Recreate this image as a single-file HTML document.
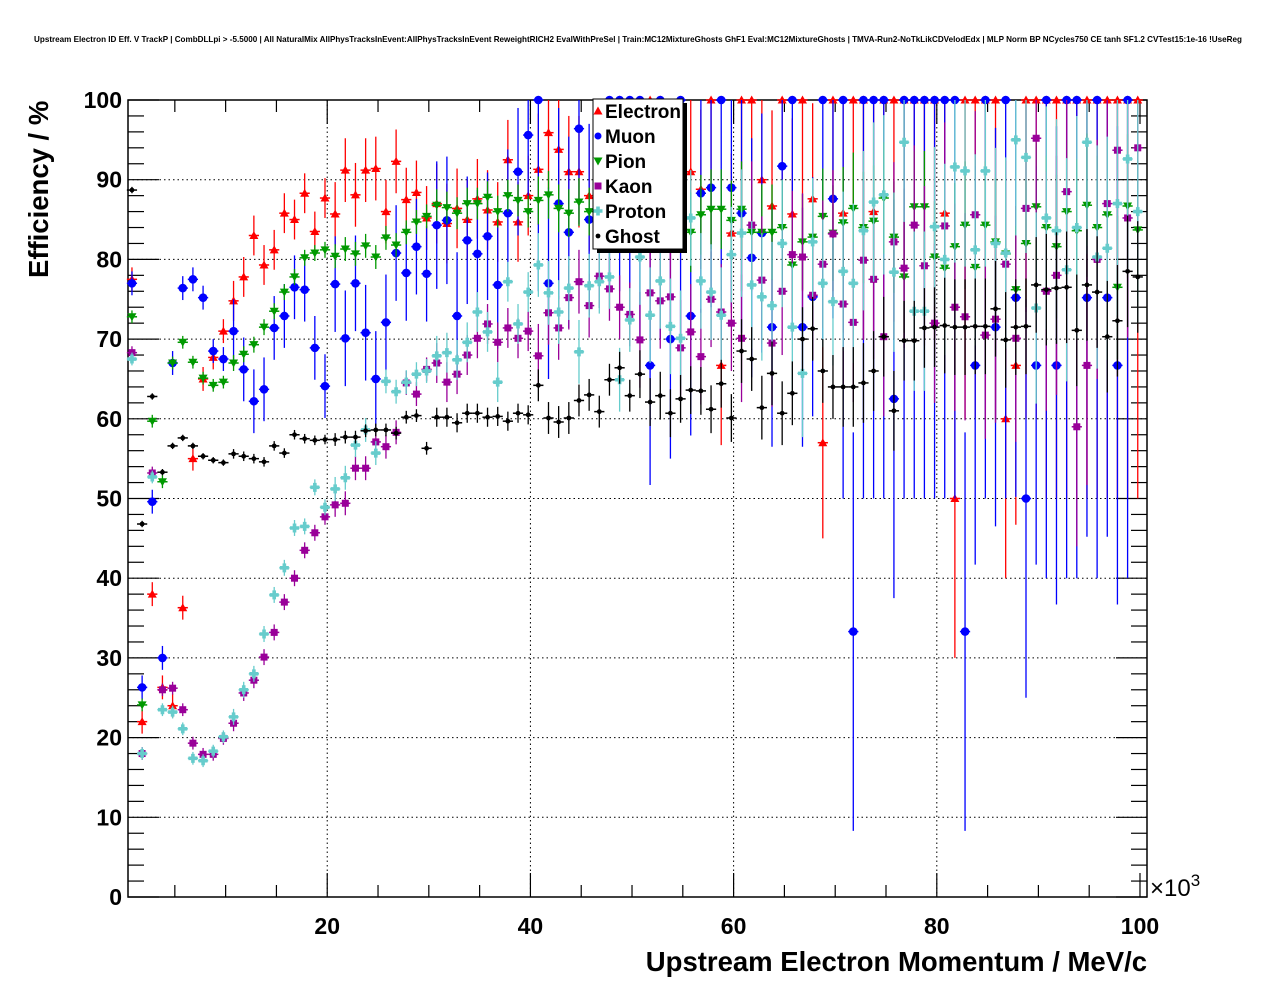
<!DOCTYPE html>
<html><head><meta charset="utf-8"><style>
html,body{margin:0;padding:0;background:#fff;}
svg{display:block;font-family:"Liberation Sans",Arial,sans-serif;}
</style></head><body>
<svg id="chart" width="1276" height="996" viewBox="0 0 1276 996" xmlns="http://www.w3.org/2000/svg">
<rect x="0" y="0" width="1276" height="996" fill="#fff"/>
<text x="638" y="42" text-anchor="middle" font-size="8.1" font-weight="bold">Upstream Electron ID Eff. V TrackP | CombDLLpi &gt; -5.5000 | All NaturalMix AllPhysTracksInEvent:AllPhysTracksInEvent ReweightRICH2 EvalWithPreSel | Train:MC12MixtureGhosts GhF1 Eval:MC12MixtureGhosts | TMVA-Run2-NoTkLikCDVelodEdx | MLP Norm BP NCycles750 CE tanh SF1.2 CVTest15:1e-16 !UseReg</text>
<g id="grid"></g>
<g id="axes"></g>
<g id="series"></g>
<text transform="translate(48,278) rotate(-90)" text-anchor="start" font-size="27.5" font-weight="bold">Efficiency / %</text>
<text x="1147" y="971" text-anchor="end" font-size="27.5" font-weight="bold">Upstream Electron Momentum / MeV/c</text>
<text x="1150" y="896" font-size="24">×10<tspan font-size="17" dy="-10">3</tspan></text>
<g id="legend"></g>
</svg>
<script>
const categoriesStart = 0.78;
const electron = [77.5,22,38,26.3,24,36.3,55,65,67.7,71,74.8,77.8,83,79.3,81.2,85.8,85,88.3,83.5,87.7,85.7,91.2,88.1,91.2,91.4,86,92.3,87.5,88.4,85.2,87,84.5,86.4,85,87.6,86.2,84.7,92.5,84.7,88,91.3,95.9,93.8,91,91,88,92,90,100,93,95,100,100,90,92,91,88.8,100,66.7,83.3,100,100,90,86.7,100,85.7,100,87.6,57,100,85.8,100,100,86,100,100,100,100,100,100,85.8,50,100,100,100,100,60,66.7,100,100,100,100,100,100,100,100,100,100,100,100];
const muon = [77,26.3,49.6,30,67,76.4,77.5,75.2,68.5,67.5,71,66.2,62.2,63.7,71.4,72.9,76.5,76.2,68.9,64.1,76.9,70.1,77,70.8,65,72.1,80.8,78.3,81.6,78.2,84.3,84.9,72.9,82.4,80.7,82.9,76.8,85.8,91,95.6,100,77,87,83.4,96.4,85,92,100,100,100,100,66.7,100,70,100,72.9,88.3,89,100,89,85.8,80.2,83.3,71.5,91.7,100,71.5,75.3,100,87.6,100,33.3,100,100,100,62.5,100,100,100,100,100,100,33.3,66.7,100,71.5,100,75.2,50,66.7,100,66.7,100,100,75.2,100,75.2,66.7,100,null];
const pion = [72.8,24.1,59.7,52.1,67,69.6,67.1,65.1,64.2,64.6,67,68.1,69.3,71.5,73.5,75.9,77.8,80.2,80.8,81.2,80.4,81.3,80.7,81.7,80.3,82.7,81.8,83.4,84.7,85.4,86.8,86.5,85.8,87,87,87.8,86,88,87.4,86,87.4,88.1,86.4,85.8,87.2,86,86,86,86,86,86,86,86,86,86,83.4,85.6,86.3,86.3,84.9,86.3,83.4,83.4,83.4,84,79.3,82.2,82.8,85.4,83.3,84.6,86.4,84,84.8,87.7,82.8,77.8,86.6,86.6,80.3,78.9,81.6,84.3,79,84.3,82.2,80.7,76.2,82,86.6,84,81.6,86,83.6,86.8,84,85.6,76.5,86.7,83.7];
const kaon = [68.3,18,53.2,26,26.2,23.5,19.3,17.9,17.9,19.9,21.8,25.6,27.2,30.1,33.2,37,40,43.5,45.7,47.7,49.2,49.4,53.8,53.8,57.1,56.5,58.3,64.5,63.1,66.2,67,64.6,65.6,68,70.1,71.9,69.6,71.4,70.1,71,67.9,73.3,71.4,75.2,77.2,74.2,77.9,76.3,74,73.1,69.9,75.8,74.8,75.3,68.9,70.9,67.8,75,73.4,72,70.1,84.3,77.4,69.5,76,80.6,80.3,75.5,79.4,83.2,74.4,72.1,79.9,77.5,70.3,82.2,78.9,84.3,79.2,72,84.2,74,72.8,85.6,70.5,72.5,79.4,70.1,86.4,95.2,76,78,88.5,59,66.7,80,87,93.7,85.2,94];
const proton = [67.5,18,52.7,23.5,23.2,21.1,17.4,17.1,18.3,20.1,22.6,26,28,33,37.9,41.3,46.3,46.5,51.4,48.9,51.2,52.6,56.7,58.6,55.7,64.7,63.4,64.6,65.6,66,67.9,68.3,67.4,69.6,73.4,70.9,64.6,77.2,71.9,75.9,79.3,75.8,73.4,76.4,68.4,76.7,77.2,77.8,64.9,72.4,80.3,73,77.3,71.6,70.1,85.2,77.3,75.9,73,80.6,83.3,76.8,75.3,74.2,82,71.5,65.7,82.2,77,74.7,78.5,77,83.6,87.2,88.1,78.4,94.7,73.5,73.5,84.1,80,91.6,91.1,81.2,91.1,82,80.8,95,92.8,73.9,85.2,83.6,78.7,84,94.7,80.3,81.4,87,92.6,86];
const ghost = [88.7,46.8,62.8,53.3,56.6,57.6,56.6,55.3,54.8,54.5,55.6,55.3,55,54.6,56.6,55.7,58,57.5,57.3,57.4,57.4,57.7,57.7,58.5,58.6,58.6,58.2,60.2,60.4,56.3,60.2,60.2,59.5,60.7,60.7,60.2,60.3,59.7,60.7,60.5,64.2,60.1,59.6,60.1,62.3,63,60.9,64.9,66.4,62.9,65.6,62.1,62.9,60.7,62.5,63.6,63.5,61.2,64.4,60.1,68.5,67.5,61.4,65.7,60.7,63.2,70,71.3,66,64,64,64,64.5,66,70.3,61,69.8,69.8,71.4,71.5,71.7,71.5,71.5,71.6,71.6,73.8,69.9,71.5,71.6,76.8,76.2,76.4,76.5,71.1,76.8,75.9,70.3,72.3,78.5,77.8];
// error half-size per 10-bin decade
const electronErr = [1.5,2.5,4,5,7,10,12,15,20,25];
const muonErr = [1.5,4,6,8,12,15,15,25,25,30];
const pionErr = [0.8,1,1.5,2,3,5,6,7,8,9];
const kaonErr = [0.8,1,1.5,2.5,4,6,8,10,13,15];
const protonErr = [0.8,1,1.5,2.5,4,6,8,10,12,14];
const ghostErr = [0.4,0.6,0.8,1.2,2,3,4,5,6,7];
const seriesNames = ["Electron","Muon","Pion","Kaon","Proton","Ghost"];
const xTickLabels = ["20","40","60","80","100"];
const yTickLabels = ["0","10","20","30","40","50","60","70","80","90","100"];

const NS="http://www.w3.org/2000/svg";
const X0=128,X1=1147,Y0=897,Y1=100,VMIN=0.39,VMAX=100.69;
function xs(v){return X0+(v-VMIN)/(VMAX-VMIN)*(X1-X0);}
function ys(v){return Y0-(v/100)*(Y0-Y1);}
function mk(tag,attrs,parent){const e=document.createElementNS(NS,tag);for(const k in attrs)e.setAttribute(k,attrs[k]);parent.appendChild(e);return e;}
const grid=document.getElementById('grid'),axes=document.getElementById('axes'),ser=document.getElementById('series'),leg=document.getElementById('legend');

xTickLabels.forEach(t=>{const v=+t;if(v<100){const g=mk('line',{x1:xs(v),x2:xs(v),y1:Y1,y2:Y0,stroke:'#000','stroke-width':1,'stroke-dasharray':'1.5,3'},grid);

}});
yTickLabels.forEach(t=>{const v=+t;if(v>0&&v<100){const g=mk('line',{x1:X0,x2:X1,y1:ys(v),y2:ys(v),stroke:'#000','stroke-width':1,'stroke-dasharray':'1.5,3'},grid);

}});

const fr=mk('rect',{x:X0,y:Y1,width:X1-X0,height:Y0-Y1,fill:'none',stroke:'#000','stroke-width':1.5},axes);


for(let v=0;v<=100;v+=2){const major=v%10===0;const L=major?31:16;
mk('line',{x1:X0,x2:X0+L,y1:ys(v),y2:ys(v),stroke:'#000','stroke-width':1.2},axes);
mk('line',{x1:X1,x2:X1-L,y1:ys(v),y2:ys(v),stroke:'#000','stroke-width':1.2},axes);}
yTickLabels.forEach(t=>{const tx=mk('text',{x:122,y:ys(+t)+8,'text-anchor':'end','font-size':23,'font-weight':'bold'},axes);tx.textContent=t;

});
for(let v=5;v<=100;v+=5){const major=v%20===0;const L=major?24:12;
mk('line',{x1:xs(v),x2:xs(v),y1:Y0,y2:Y0-L,stroke:'#000','stroke-width':1.2},axes);
mk('line',{x1:xs(v),x2:xs(v),y1:Y1,y2:Y1+L,stroke:'#000','stroke-width':1.2},axes);}
xTickLabels.forEach(t=>{const tx=mk('text',{x:xs(+t),y:934,'text-anchor':'middle','font-size':23,'font-weight':'bold'},axes);tx.textContent=t;

});

const styles=[
 {c:'#ff0000',m:'tri'},{c:'#0000ff',m:'circ'},{c:'#009900',m:'tridown'},
 {c:'#990099',m:'sq'},{c:'#66cccc',m:'cross'},{c:'#000000',m:'dot'}];
const allData=[electron,muon,pion,kaon,proton,ghost];
const allErr=[electronErr,muonErr,pionErr,kaonErr,protonErr,ghostErr];

function marker(type,cx,cy,c,parent){
 if(type==='tri')return mk('polygon',{points:`${cx-4.5},${cy+3.5} ${cx+4.5},${cy+3.5} ${cx},${cy-4.5}`,fill:c},parent);
 if(type==='tridown')return mk('polygon',{points:`${cx-4.5},${cy-3.5} ${cx+4.5},${cy-3.5} ${cx},${cy+4.5}`,fill:c},parent);
 if(type==='circ')return mk('circle',{cx:cx,cy:cy,r:4.3,fill:c},parent);
 if(type==='sq')return mk('rect',{x:cx-3.5,y:cy-3.5,width:7,height:7,fill:c},parent);
 if(type==='cross')return mk('path',{d:`M${cx-1.8},${cy-4.5}h3.6v2.7h2.7v3.6h-2.7v2.7h-3.6v-2.7h-2.7v-3.6h2.7z`,fill:c},parent);
 return mk('circle',{cx:cx,cy:cy,r:2.4,fill:c},parent);
}

allData.forEach((arr,si)=>{
 const st=styles[si];
 const g=mk('g',{},ser);
 
 
 arr.forEach((v,k)=>{
  if(v===null||v===undefined)return;
  const cx=xs(categoriesStart+k),cy=ys(v);
  const e=allErr[si][Math.min(9,Math.floor(k/10))];
  const lo=Math.max(0,v-e*(v>=99.9?2:1)),hi=Math.min(100,v+e);
  const pg=mk('g',{},g);
  
  
  mk('line',{x1:cx,x2:cx,y1:ys(lo),y2:ys(hi),stroke:st.c,'stroke-width':1.3},pg);
  mk('line',{x1:cx-5.1,x2:cx+5.1,y1:cy,y2:cy,stroke:st.c,'stroke-width':1.5},pg);
  marker(st.m,cx,cy,st.c,pg);
 });
});

const lx=593,ly=99,lw=90,lh=150;
const sh=mk('rect',{x:lx+4,y:ly+4,width:lw,height:lh,fill:'#000'},leg);


const lb=mk('rect',{x:lx,y:ly,width:lw,height:lh,fill:'#fff',stroke:'#000','stroke-width':1},leg);


seriesNames.forEach((n,i)=>{
 const yy=111+i*25;
 const eg=mk('g',{},leg);
 
 
 const s=styles[i];
 const mm=marker(s.m,598,yy,s.c,eg);
 if(s.m==='circ')mm.setAttribute('r',3.5);
 const t=mk('text',{x:605,y:yy+7,'font-size':19,'font-weight':'bold'},eg);
 t.textContent=n;
});
</script>
</body></html>
